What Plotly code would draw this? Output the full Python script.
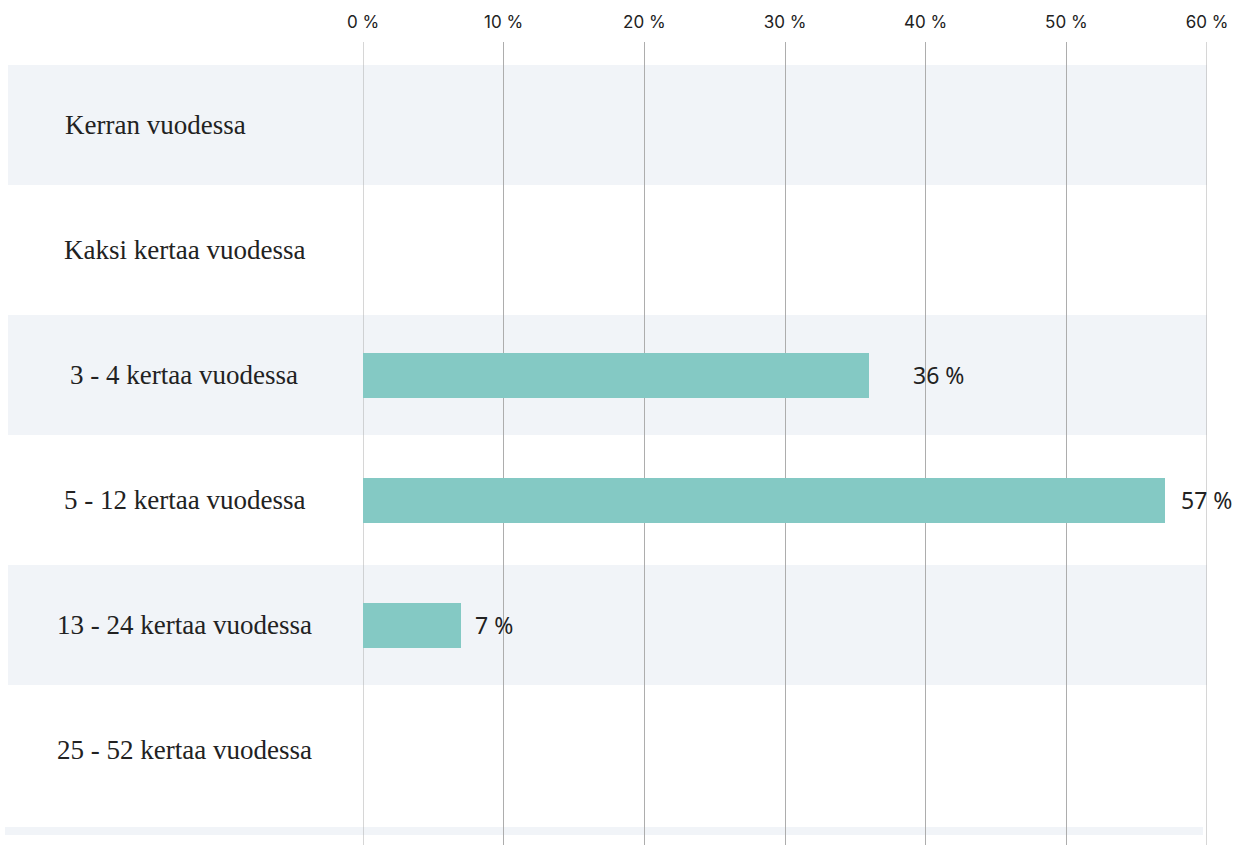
import plotly.graph_objects as go

# Survey answers: how often per year
categories = [
    "Kerran vuodessa",
    "Kaksi kertaa vuodessa",
    "3 - 4 kertaa vuodessa",
    "5 - 12 kertaa vuodessa",
    "13 - 24 kertaa vuodessa",
    "25 - 52 kertaa vuodessa",
]
shares = [0, 0, 36, 57, 7, 0]
tick_values = [0, 10, 20, 30, 40, 50, 60]
tick_labels = [f"{v} %" for v in tick_values]

BAR = "#84c9c4"
BAND = "#f1f4f8"
GRID = "#adadad"
TEXT = "#222222"

W, H = 1250, 845
M_L, M_R, M_T, M_B = 363, 43, 42, 0
plot_w = W - M_L - M_R
plot_h = H - M_T - M_B


def px_to_paper_x(px):
    return (px - M_L) / plot_w


def px_to_paper_y(py):
    return (H - M_B - py) / plot_h


fig = go.Figure(
    go.Bar(
        x=shares,
        y=categories,
        orientation="h",
        width=0.36,
        marker=dict(color=BAR, line=dict(width=0)),
        hoverinfo="skip",
    )
)

# alternating row bands behind the grid
shapes = []
for i, _ in enumerate(categories):
    if i % 2 == 0:
        shapes.append(dict(
            type="rect", layer="below", xref="paper", yref="y",
            x0=px_to_paper_x(8), x1=1.0, y0=i - 0.48, y1=i + 0.48,
            fillcolor=BAND, line=dict(width=0),
        ))
# top edge of the next band peeking in at the bottom
shapes.append(dict(
    type="rect", layer="below", xref="paper", yref="paper",
    x0=px_to_paper_x(5), x1=px_to_paper_x(1203),
    y0=px_to_paper_y(835), y1=px_to_paper_y(827),
    fillcolor=BAND, line=dict(width=0),
))
# grid lines at both ends of the axis range
for v in (tick_values[0], tick_values[-1]):
    shapes.append(dict(
        type="line", layer="below", xref="x", yref="paper",
        x0=v, x1=v, y0=0, y1=1, line=dict(color=GRID, width=1),
    ))

annotations = []
# category labels in the left column
label_anchor = ["left", "center", "center", "center", "center", "center"]
for cat, anchor in zip(categories, label_anchor):
    annotations.append(dict(
        xref="paper", yref="y",
        x=px_to_paper_x(63) if anchor == "left" else px_to_paper_x(184),
        y=cat, text=cat, showarrow=False, xanchor=anchor, yanchor="middle",
        font=dict(family="Liberation Serif", size=27, color=TEXT),
    ))

# value labels next to the bars
value_shift = [0, 0, 42, 14, 12, 0]
for cat, v, dx in zip(categories, shares, value_shift):
    if v > 0:
        annotations.append(dict(
            xref="x", yref="y", x=v, y=cat, text=f"{v} %",
            showarrow=False, xanchor="left", yanchor="middle", xshift=dx,
            font=dict(family="Noto Sans", size=23, color=TEXT),
        ))

fig.update_layout(
    width=W, height=H,
    margin=dict(l=M_L, r=M_R, t=M_T, b=M_B),
    paper_bgcolor="white", plot_bgcolor="white",
    showlegend=False,
    shapes=shapes, annotations=annotations,
    bargap=0,
    xaxis=dict(
        side="top", range=[0, 60],
        tickvals=tick_values, ticktext=tick_labels,
        ticks="outside", ticklen=6, tickcolor="rgba(0,0,0,0)",
        tickfont=dict(family="Inter", size=17, color=TEXT),
        showgrid=True, gridcolor=GRID, gridwidth=1,
        zeroline=False, showline=False, fixedrange=True,
    ),
    yaxis=dict(
        type="category", categoryorder="array", categoryarray=categories,
        range=[5.76, -0.664],
        showticklabels=False, showgrid=False, zeroline=False,
        showline=False, ticks="", fixedrange=True,
    ),
)

fig.write_html("out.html")
